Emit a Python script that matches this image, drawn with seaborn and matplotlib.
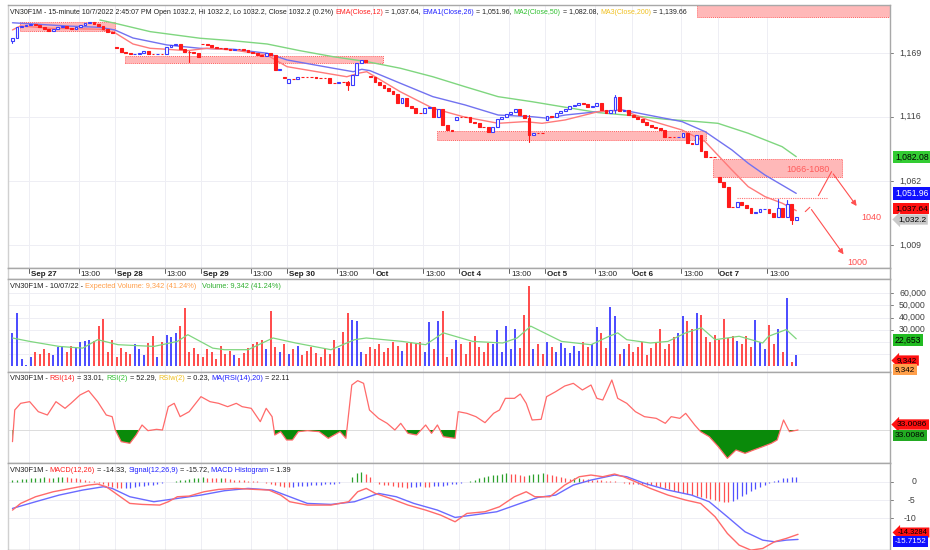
import numpy as np
import pandas as pd
import seaborn as sns
import matplotlib
matplotlib.use("Agg")
import matplotlib.pyplot as plt
from matplotlib.patches import Rectangle
from matplotlib.offsetbox import TextArea, HPacker, AnchoredOffsetbox
from matplotlib import font_manager
import matplotlib.transforms as mtrans

sns.set_theme(style="white")
avail = {f.name for f in font_manager.fontManager.ttflist}
FONT = "Liberation Sans Narrow" if "Liberation Sans Narrow" in avail else "Liberation Sans"
NARROW = FONT == "Liberation Sans Narrow"
plt.rcParams["font.family"] = [FONT, "DejaVu Sans"]

# ---------------- data ----------------
day_labels = ["Sep 27", "Sep 28", "Sep 29", "Sep 30", "Oct", "Oct 4", "Oct 5", "Oct 6", "Oct 7"]
close_pre   = [1181.5, 1190.7, 1191.5, 1192.3]
close_sep27 = [1193.2, 1192.3, 1190.4, 1188.8, 1187.6, 1188.8, 1190.9, 1191.5, 1189.8, 1189.0, 1190.4, 1192.1, 1193.8, 1194.8, 1193.2, 1191.5, 1189.0, 1186.2, 1185.8]
close_sep28 = [1172.9, 1170.1, 1169.3, 1167.9, 1168.4, 1169.3, 1170.9, 1167.9, 1167.9, 1168.2, 1167.9, 1174.3, 1175.4, 1176.5, 1172.1, 1170.1, 1169.6, 1169.3, 1165.9]
close_sep29 = [1176.3, 1175.4, 1174.3, 1173.2, 1173.2, 1172.1, 1171.5, 1172.6, 1172.3, 1171.5, 1170.1, 1168.8, 1167.3, 1166.5, 1168.8, 1167.6, 1154.8, 1155.4, 1147.9]
close_sep30 = [1147.3, 1147.3, 1149.2, 1149.2, 1149.2, 1149.0, 1148.2, 1147.9, 1147.9, 1144.3, 1144.3, 1144.8, 1144.8, 1142.3, 1150.7, 1160.9, 1163.2, 1161.8, 1149.2]
close_oct3  = [1145.1, 1142.3, 1139.6, 1137.3, 1134.8, 1127.1, 1131.3, 1124.8, 1123.2, 1119.2, 1119.0, 1123.2, 1124.3, 1115.9, 1122.3, 1109.0, 1104.8, 1104.3, 1115.9]
close_oct4  = [1115.9, 1115.9, 1111.8, 1110.4, 1107.6, 1107.6, 1103.4, 1107.6, 1113.9, 1115.9, 1118.2, 1119.8, 1122.1, 1117.3, 1114.6, 1100.7, 1102.1, 1102.1, 1102.1]
close_oct5  = [1116.5, 1115.4, 1119.0, 1120.9, 1122.1, 1124.8, 1125.4, 1127.6, 1126.5, 1123.8, 1124.8, 1127.6, 1121.5, 1119.0, 1121.5, 1132.6, 1120.9, 1121.5, 1117.3]
close_oct6  = [1115.9, 1113.8, 1111.8, 1109.0, 1107.6, 1106.3, 1104.8, 1099.3, 1098.8, 1098.8, 1099.3, 1102.1, 1094.3, 1093.2, 1100.7, 1087.6, 1082.6, 1082.6, 1082.6]
close_oct7  = [1061.8, 1057.6, 1040.9, 1040.9, 1045.1, 1042.3, 1039.4, 1035.9, 1036.7, 1038.8, 1039.3, 1035.4, 1032.6, 1039.4, 1032.6, 1043.2, 1029.8, 1032.2]
open_overrides = {0: 1179.0, 23: 1174.3, 42: 1176.8, 60: 1148.6, 61: 1144.0, 79: 1150.0,
                  98: 1113.2, 118: 1113.2, 156: 1065.7}
wick_overrides = {0: (1181.8, 1177.5), 39: (1170.5, 1161.8), 74: (1145.5, 1138.5),
                  114: (1117.3, 1095.1), 133: (1134.0, 1119.0), 169: (1047.1, 1032.0),
                  171: (1046.5, 1032.0), 172: (1043.5, 1026.5)}

ema12_idx = [0, 1.7, 8.3, 19.3, 22.6, 26.6, 30.4, 34.1, 38.5, 42.9, 48.7, 56.2, 60.6, 67.2, 73.8, 76.3, 78.2, 85.6, 92.8, 99.5, 107.2, 113.1, 116.9, 122, 129.3, 134.6, 140.3, 147.8, 152.9, 158.8, 162.4, 166.1, 169.9, 173]
ema12_val = [1188.2, 1191.5, 1189.6, 1188.8, 1185.9, 1176.5, 1172.9, 1172.1, 1170.9, 1172.9, 1171.5, 1167.3, 1157.6, 1153.4, 1149.2, 1152.1, 1153.4, 1136.7, 1122.9, 1115.9, 1110.4, 1111.8, 1110.4, 1113.2, 1120.1, 1121.5, 1113.2, 1104.8, 1095.1, 1071.5, 1057.6, 1049.3, 1043.8, 1037.6]
ema26_idx = [0, 12, 19.3, 22.6, 26.6, 34.1, 41.4, 48.7, 56.2, 60.6, 70.8, 75.2, 77.1, 78.9, 85.6, 92.8, 99.9, 107.2, 114.7, 118.2, 122, 129.3, 134.6, 140.3, 147.8, 152.9, 158.8, 162.4, 166.1, 173]
ema26_val = [1194.2, 1191.5, 1190.4, 1188.2, 1181.5, 1175.7, 1172.9, 1172.1, 1168.8, 1163.2, 1156.3, 1153.4, 1155.4, 1154.3, 1143.8, 1132.6, 1125.7, 1117.3, 1115.9, 1114.6, 1117.3, 1120.1, 1121.5, 1117.3, 1111.8, 1103.4, 1088.2, 1077.1, 1067.3, 1052.0]
ma50_idx = [19.3, 22.6, 30.4, 41.4, 48.7, 56.2, 63.5, 70.8, 78.2, 85.6, 92.8, 99.9, 107.2, 114.7, 122, 129.3, 136.8, 144.1, 151.3, 155.7, 162.4, 169.9, 173]
ma50_val = [1196.5, 1193.8, 1186.8, 1181.3, 1179.2, 1176.5, 1170.9, 1165.9, 1161.8, 1156.3, 1149.2, 1140.9, 1132.6, 1128.4, 1123.8, 1119.3, 1116.8, 1113.8, 1111.8, 1110.4, 1102.1, 1090.9, 1082.6]

volume_k = [27.5, 44, 6, 1,
            8, 12, 10, 14, 11, 9, 16, 17, 12, 17, 15, 20, 21, 22, 21,
            33, 39, 12, 22, 8, 15, 12, 10, 18, 14, 9, 19, 25, 8, 20, 26, 24, 27,
            33, 48, 12, 15, 10, 8, 14, 12, 6, 17, 10, 13, 9, 7, 11, 15, 18, 20, 22, 14,
            45, 16, 12, 18, 10, 14, 17, 9, 13, 16, 11, 8, 14, 10,
            22, 15, 28, 44, 38, 37, 12,
            10, 16, 14, 18, 12, 15, 20, 17, 13, 19, 20, 18, 20, 12,
            36, 14, 37, 45, 8, 14, 22, 18, 10, 20, 25, 16, 12, 19,
            18, 30, 12, 33, 14, 31, 15, 42, 65.5,
            14, 18, 10, 20, 16, 12, 19, 15, 11, 17, 13, 20, 16,
            18, 32, 27, 15, 49, 41, 10, 14, 18, 12, 16, 20, 9, 15, 19,
            31, 14, 18, 24, 27, 41, 37, 31, 44, 42,
            24, 20, 26, 22, 39, 23, 25, 21, 18,
            25, 16, 38, 20, 14, 34, 18, 31, 12, 56, 4, 9.342]
vol_ma_idx = [0, 3.8, 10.3, 15.5, 18.8, 23.3, 31.2, 36.4, 38.7, 44.2, 46.8, 52, 57.5, 62.5, 70.3, 75.5, 78.1, 86, 91.2, 95.1, 101.6, 108.2, 111.4, 114.4, 121.2, 127.7, 131.7, 133.6, 135.6, 140.8, 144.7, 148.6, 152.1, 155.1, 160.4, 165.6, 166.9, 170.8, 173]
vol_ma_k = [23.3, 20.5, 16.4, 15.0, 21.9, 17.8, 16.4, 20.5, 26.0, 15.0, 13.7, 13.7, 23.3, 19.2, 13.7, 21.9, 23.3, 20.5, 17.8, 27.5, 20.5, 19.2, 23.3, 33.0, 20.5, 17.8, 24.7, 27.5, 21.9, 19.2, 20.5, 27.5, 31.6, 21.9, 24.7, 19.2, 24.7, 30.2, 22.653]

rsi_idx = [0, 0.5, 1.8, 3.8, 5.7, 7.7, 9.6, 11.6, 12.9, 14.9, 16.8, 18.8, 20.7, 22, 22.7, 24, 25.9, 27.3, 28.6, 29.9, 31.8, 33.1, 34.4, 35.7, 37, 39, 41.6, 43.6, 45.5, 47.5, 49.4, 50.7, 52.7, 54.7, 56, 57.3, 57.9, 59.2, 60.5, 61.8, 63.1, 65.1, 67.7, 69.7, 71, 72.3, 73.6, 74.9, 76.2, 77.5, 78.8, 80.8, 82.7, 84.4, 85.7, 87.3, 89.2, 91.2, 92.5, 93.8, 95.1, 97.7, 98.4, 100.3, 102.3, 104.3, 106.2, 107.5, 108.8, 110.8, 112.1, 113.4, 114.7, 116.7, 117.9, 119.9, 121.9, 123.8, 125.8, 127.7, 129, 130.3, 132.3, 133.6, 135.6, 137.5, 139.5, 142.1, 144.1, 145.4, 147.3, 148.6, 150.6, 151.9, 153.8, 155.8, 157.8, 159.7, 161.7, 163.6, 165.6, 167.5, 168.8, 170.2, 171.5, 173.4]
rsi_val = [22.5, 51, 57, 58.5, 49.5, 46.5, 58.5, 52.5, 57, 64.5, 68.4, 58.5, 46.5, 45, 33, 22.5, 21, 28.5, 37.5, 32.4, 33.6, 33, 54, 57, 45, 49.5, 63, 58.5, 57, 54, 57, 54, 52.5, 40.5, 52.5, 45, 28.5, 31.5, 24, 24, 31.5, 32.4, 31.5, 25.5, 28.5, 31.5, 25.5, 73.5, 77.4, 75, 51, 43.5, 39, 33, 39, 30, 28.5, 37.5, 30, 37.5, 27, 25.5, 49.5, 48, 45, 39.6, 48, 51, 61.5, 61.5, 65.4, 57, 42, 42.6, 63, 67.5, 72.6, 75, 69, 73.5, 61.5, 60, 78, 61.5, 57, 49.5, 45, 43.5, 39, 45, 43.5, 48, 37.5, 31.5, 27, 18, 7.5, 15, 12, 15, 18, 21, 24, 42, 31.5, 33.01]
rsi_level = 33.0086

macd_idx = [0, 1.8, 5.1, 9, 12.9, 16.8, 18.8, 20.7, 23.3, 25.9, 28.6, 32.5, 34.4, 36.4, 39, 42.3, 45.5, 49.4, 53.4, 56.6, 59.2, 61.2, 65.1, 70.3, 74.2, 76.2, 78.1, 80.1, 83.4, 87.3, 91.2, 94.5, 97.7, 100.3, 104.3, 107.5, 110.8, 113.4, 115.3, 118.6, 121.9, 125.1, 127.7, 130.3, 132.9, 134.9, 137.5, 140.8, 144.7, 148.6, 151.9, 155.1, 157.8, 160.4, 163, 165.6, 168.2, 170.8, 173.4]
macd_val = [-7.73, -5.91, -4.09, -2.73, -1.82, -0.91, -0.64, -1.36, -3.64, -5.91, -6.18, -6.36, -5.45, -4.09, -3.91, -2.73, -2.09, -1.82, -2.09, -2.27, -3.64, -5.45, -6.36, -6.36, -5.45, -2.73, -1.82, -3.18, -4.55, -6.36, -7.73, -9.09, -10.91, -8.64, -8.18, -6.82, -4.09, -2.73, -4.09, -4.09, -0.91, 1.36, 1.82, 1.36, 2.09, 1.36, 0.0, -1.82, -3.64, -5.0, -5.91, -9.55, -14.09, -17.27, -18.64, -18.18, -16.36, -15.45, -14.33]
signal_idx = [0, 5.1, 10.3, 15.5, 20.1, 22, 25.9, 31.2, 36.4, 41.6, 46.8, 52, 57.3, 61.2, 65.1, 70.3, 75.5, 80.8, 84.7, 88.6, 93.8, 97.7, 101.6, 106.9, 112.1, 116, 119.9, 123.8, 127.7, 132.9, 135.6, 139.5, 144.7, 149.9, 153.8, 157.8, 161.7, 165.6, 168.2, 170.8, 173.4]
signal_val = [-7.27, -5.45, -3.64, -2.27, -1.36, -1.82, -4.09, -5.45, -4.55, -3.64, -2.45, -1.82, -2.27, -4.09, -5.91, -6.18, -5.45, -3.18, -4.09, -5.91, -7.73, -9.73, -9.09, -8.18, -5.91, -4.27, -3.64, -0.91, 0.45, 1.82, 1.36, -0.45, -2.27, -3.64, -5.45, -9.55, -13.64, -15.91, -16.36, -15.91, -15.72]
macd_hist = [0.4, 0.5, 0.7, 0.8, 0.9, 1.0, 1.1, 1.2, 1.0, 1.1, 1.3, 1.4, 1.2, 1.0, 0.9, 0.7, 0.5, 0.3, 0.1,
             -0.3, -0.7, -1.1, -1.4, -1.6, -1.8, -1.7, -1.6, -1.5, -1.3, -1.2, -1.0, -0.8, -0.6, -0.4, -0.2, -0.1,
             0.2, 0.4, 0.6, 0.8, 1.0, 1.1, 1.2, 1.1, 1.0, 0.9, 1.0, 0.9, 0.8, 0.6, 0.5, 0.4, 0.3, 0.2, 0.1, 0.05,
             -0.3, -0.6, -0.9, -1.2, -1.4, -1.5, -1.4, -1.3, -1.2, -1.1, -1.0, -0.9, -0.8, -0.7, -0.6, -0.5, -0.4, -0.2, -0.1,
             1.2, 2.4, 2.7, 2.2, 1.2,
             -0.2, -0.5, -0.8, -1.0, -1.2, -1.4, -1.5, -1.6, -1.5, -1.4, -1.3, -1.4, -1.5, -1.3, -1.2, -1.1, -0.9, -0.7, -0.5, -0.3, -0.1,
             0.3, 0.6, 0.9, 1.2, 1.5, 1.7, 1.9, 2.1, 2.3, 2.2, 2.0, 1.7, 1.5, 1.8, 2.0, 2.2, 2.3, 2.1, 1.8, 1.5, 1.2, 1.0,
             0.8, 0.9, 0.9, 0.8, 0.7, 0.6, 0.5, 0.4, 0.3, 0.2, 0.1,
             -0.2, -0.3, -0.5, -0.6, -0.5, -0.6, -0.8, -1.0, -1.2,
             -1.5, -1.8, -2.1, -2.4, -2.7, -3.0, -3.3, -3.6, -3.9, -4.2, -4.5, -4.8, -5.0, -5.2, -5.4, -5.5, -5.2, -4.6, -4.0, -3.3, -2.6, -2.0, -1.4, -0.9, -0.4,
             0.3, 0.6, 0.9, 1.1, 1.3, 1.39]

price_ticks = [1009, 1062, 1116, 1169]
vol_ticks = [30000, 40000, 50000, 60000]
macd_ticks = [0, -5, -10]

# zones: (x0, x1, low, high) in bar units / price
zones = [(1.7, 22.6, 1187.6, 1195.1), (24.8, 81.8, 1160.9, 1166.5),
         (93.7, 153.1, 1096.5, 1104.0), (154.6, 183.1, 1066.0, 1080.4),
         (151.1, 193.6, 1199.0, 1215.0)]

# ---------------- build frame ----------------
closes = np.array(close_pre + close_sep27 + close_sep28 + close_sep29 + close_sep30 +
                  close_oct3 + close_oct4 + close_oct5 + close_oct6 + close_oct7)
n = len(closes)
idx = np.arange(n)
opens = np.r_[closes[0], closes[:-1]]
for k, v in open_overrides.items():
    opens[k] = v
df = pd.DataFrame({"i": idx, "open": opens, "close": closes, "vol": np.array(volume_k) * 1000})
df["up"] = df["close"] > df["open"]
day_lens = [len(c) for c in [close_sep27, close_sep28, close_sep29, close_sep30, close_oct3,
                             close_oct4, close_oct5, close_oct6, close_oct7]]
day_starts = len(close_pre) + np.r_[0, np.cumsum(day_lens)[:-1]]

# ---------------- figure ----------------
W, H = 930, 550
fig = plt.figure(figsize=(W / 100, H / 100), dpi=100)
fig.patch.set_facecolor("white")

def rect(x0, y0, x1, y1):
    return [x0 / W, 1 - y1 / H, (x1 - x0) / W, (y1 - y0) / H]

XL, XR = 8, 890
XLIM = (-0.99, 193.7)
axp = fig.add_axes(rect(XL, 5, XR, 268))
axd = fig.add_axes(rect(XL, 268, XR, 279))
axv = fig.add_axes(rect(XL, 279, XR, 372))
axr = fig.add_axes(rect(XL, 372, XR, 463))
axm = fig.add_axes(rect(XL, 463, XR, 550))
for a in [axp, axd, axv, axr, axm]:
    a.set_xlim(*XLIM)
    a.set_facecolor("white")
    a.set_xticks([]); a.set_yticks([])
    for s in a.spines.values():
        s.set_color("#a8a8a8"); s.set_linewidth(1.0)
    a.spines["left"].set_color("#d0d0d0")

tick_pos, tick_lab = [], []
for s, lab in zip(day_starts, day_labels):
    tick_pos += [s - 0.35, s + 11 - 0.35]
    tick_lab += [lab, "13:00"]

for a in [axp, axv, axr, axm]:
    for t in tick_pos:
        a.axvline(t, color="#eeeef4", lw=0.7, zorder=0)

# price pane
axp.set_ylim(989.8, 1209.0)
for t in price_ticks:
    axp.axhline(t, color="#eeeef4", lw=0.7, zorder=0)
for (x0, x1, lo, hi) in zones:
    axp.add_patch(Rectangle((x0, lo), x1 - x0, hi - lo, fc="#ffb8b8", ec="#ff6060",
                            lw=0.7, ls=(0, (1, 1)), zorder=1))
axp.plot([160.0, 179.8], [1048.4, 1048.4], color="#ff7070", lw=0.8, ls=(0, (1, 1)), zorder=1)
axp.text(175.6, 1071.5, "1066-1080", color="#ff5a5a", fontsize=6.5, ha="center", va="center", zorder=3)

sns.lineplot(x=ma50_idx, y=ma50_val, ax=axp, color="#7fd67f", lw=1.0, estimator=None, zorder=2)
sns.lineplot(x=ema26_idx, y=ema26_val, ax=axp, color="#7272f0", lw=1.0, estimator=None, zorder=2)
sns.lineplot(x=ema12_idx, y=ema12_val, ax=axp, color="#ff7a7a", lw=1.0, estimator=None, zorder=2)

bw = 0.62
for r in df.itertuples():
    lo, hi = min(r.open, r.close), max(r.open, r.close)
    wh, wl = wick_overrides.get(r.i, (hi, lo))
    col = "#3c3cff" if r.up else "#ff1a1a"
    if wh > hi:
        axp.plot([r.i, r.i], [hi, wh], color=col, lw=0.8, zorder=3)
    if wl < lo:
        axp.plot([r.i, r.i], [wl, lo], color=col, lw=0.8, zorder=3)
    axp.add_patch(Rectangle((r.i - bw / 2, lo), bw, max(hi - lo, 0.05),
                            fc="white" if r.up else "#ff1a1a", ec=col, lw=0.8, zorder=4))

arrow_col = "#ff5050"
axp.plot([177.9, 180.8], [1050.1, 1070.1], color=arrow_col, lw=0.8, zorder=3)
axp.annotate("", xy=(186.7, 1039.6), xytext=(180.8, 1070.1),
             arrowprops=dict(arrowstyle="-|>", color=arrow_col, lw=0.8, mutation_scale=8))
axp.plot([175.0, 176.0], [1036.8, 1040.4], color=arrow_col, lw=0.8, zorder=3)
axp.annotate("", xy=(183.8, 999.3), xytext=(176.0, 1040.4),
             arrowprops=dict(arrowstyle="-|>", color=arrow_col, lw=0.8, mutation_scale=8))
axp.text(189.5, 1031.8, "1040", color=arrow_col, fontsize=6.5, ha="center", va="center")
axp.text(186.4, 994.6, "1000", color=arrow_col, fontsize=6.5, ha="center", va="center")
axp.set_xlabel(""); axp.set_ylabel("")

# date strip
axd.set_ylim(0, 1)
for p, lab in zip(tick_pos, tick_lab):
    axd.plot([p, p], [0.55, 1.0], color="#606060", lw=0.7)
    axd.text(p + 0.4, 0.45, lab, fontsize=5.8, ha="left", va="center", color="#202020",
             fontweight="bold" if lab != "13:00" else "normal")

# volume pane
axv.set_ylim(-4550, 71600)
for t in [10000, 20000, 30000, 40000, 50000, 60000]:
    axv.axhline(t, color="#eeeef4", lw=0.7, zorder=0)
axv.vlines(df["i"], 0, df["vol"], colors=np.where(df["up"], "#3c3cff", "#ff3c3c"), lw=1.3, zorder=2)
sns.lineplot(x=vol_ma_idx, y=np.array(vol_ma_k) * 1000, ax=axv, color="#7fd67f", lw=0.9, estimator=None, zorder=3)
axv.set_xlabel(""); axv.set_ylabel("")

# RSI pane
axr.set_ylim(3.3, 85.2)
rx, ry = np.array(rsi_idx), np.array(rsi_val)
axr.axhline(rsi_level, color="#dcdcdc", lw=0.7, zorder=0)
axr.fill_between(rx, ry, rsi_level, where=ry < rsi_level, interpolate=True, color="#0a8a0a", lw=0, zorder=1)
sns.lineplot(x=rx, y=ry, ax=axr, color="#ff6a6a", lw=0.9, estimator=None, zorder=2)
axr.set_xlabel(""); axr.set_ylabel("")

# MACD pane
axm.set_ylim(-18.6, 5.1)
for t in macd_ticks:
    axm.axhline(t, color="#eeeef4", lw=0.7, zorder=0)
h = np.array(macd_hist)
prev = np.r_[h[0], h[:-1]]
hcol = np.where(h < prev, "#ff5050", np.where(h >= 0, "#2ca02c", "#5050ff"))
hcol[-6:] = "#5050ff"
axm.vlines(df["i"], 0, h, colors=hcol, lw=0.9, zorder=1)
sns.lineplot(x=signal_idx, y=signal_val, ax=axm, color="#6a6aff", lw=1.0, estimator=None, zorder=2)
sns.lineplot(x=macd_idx, y=macd_val, ax=axm, color="#ff6a6a", lw=1.0, estimator=None, zorder=3)
axm.set_xlabel(""); axm.set_ylabel("")

# right side tick labels
def ylab(ax, val, s, x=899):
    tr = mtrans.blended_transform_factory(fig.transFigure, ax.transData)
    ax.text(x / W, val, s, transform=tr, fontsize=6.3, color="#404040", ha="left", va="center", clip_on=False)
    ax.plot([XR / W, (XR + 3) / W], [val, val], transform=tr, color="#808080", lw=0.7, clip_on=False)

for t in price_ticks:
    ylab(axp, t, f"{t:,}")
for t in vol_ticks:
    ylab(axv, t, f"{t:,}")
for t, s in zip(macd_ticks, ["0", "-5", "-10"]):
    ylab(axm, t, s, x=912 if t == 0 else (908 if t == -5 else 904))

def box(px, py, s, fc, tc="black", style="square", size=6.2):
    fig.text(px / W, 1 - py / H, s, fontsize=size, color=tc, ha="left", va="center",
             bbox=dict(boxstyle=f"{style},pad=0.2", fc=fc, ec=fc, lw=0))

box(895, 157, "1,082.08", "#33cc33")
box(895, 193.5, "1,051.96", "#1010ff", tc="white")
box(895, 208.5, "1,037.64", "#ff1010", size=6.0)
box(898, 219.5, "1,032.2", "#c8c8c8", style="larrow", size=6.0)
box(895, 340, "22,653", "#22bb22")
box(897, 360.5, "9,342", "#ff1010", style="larrow", size=5.8)
box(895, 369.5, "9,342", "#ff9f4a", size=5.8)
box(897, 424.5, "33.0086", "#ff1010", style="larrow", size=6.0)
box(895, 435.5, "33.0086", "#22aa22", size=6.0)
box(898, 532.5, "-14.3284", "#ff1010", style="larrow", size=5.4)
box(895, 541.5, "-15.7152", "#1010ff", tc="white", size=5.8)

# pane titles with coloured pieces
TS = 6.3 if NARROW else 5.1
def title(py, pieces, px=10, size=TS):
    areas = [TextArea(t, textprops=dict(color=c, fontsize=size)) for t, c in pieces]
    pack = HPacker(children=areas, align="baseline", pad=0, sep=0)
    ab = AnchoredOffsetbox(loc="center left", child=pack, pad=0, borderpad=0, frameon=False,
                           bbox_to_anchor=(px / W, 1 - py / H), bbox_transform=fig.transFigure)
    fig.add_artist(ab)

K = "#202020"
title(12, [("VN30F1M - 15-minute 10/7/2022 2:45:07 PM Open 1032.2, Hi 1032.2, Lo 1032.2, Close 1032.2 (0.2%) ", K),
           ("EMA(Close,12)", "#ff2020"), (" = 1,037.64, ", K), ("EMA1(Close,26)", "#2020ff"), (" = 1,051.96, ", K),
           ("MA2(Close,50)", "#30c030"), (" = 1,082.08, ", K), ("MA3(Close,200)", "#f0c020"), (" = 1,139.66", K)],
      size=TS * 0.99)
title(287, [("VN30F1M - 10/07/22 - ", K), ("Expected Volume: 9,342 (41.24%)", "#ff9f4a"), ("   ", K),
            ("Volume: 9,342 (41.24%)", "#30b030")], size=TS * 1.04)
title(378, [("VN30F1M - ", K), ("RSI(14)", "#ff2020"), (" = 33.01, ", K), ("RSI(2)", "#30c030"), (" = 52.29, ", K),
            ("RSIw(2)", "#f0c020"), (" = 0.23, ", K), ("MA(RSI(14),20)", "#2020ff"), (" = 22.11", K)], size=TS * 1.04)
title(470, [("VN30F1M - ", K), ("MACD(12,26)", "#ff2020"), (" = -14.33, ", K), ("Signal(12,26,9)", "#2020ff"),
            (" = -15.72, ", K), ("MACD Histogram", "#2020ff"), (" = 1.39", K)], size=TS * 1.04)

fig.savefig("out.png", dpi=100, facecolor="white")
